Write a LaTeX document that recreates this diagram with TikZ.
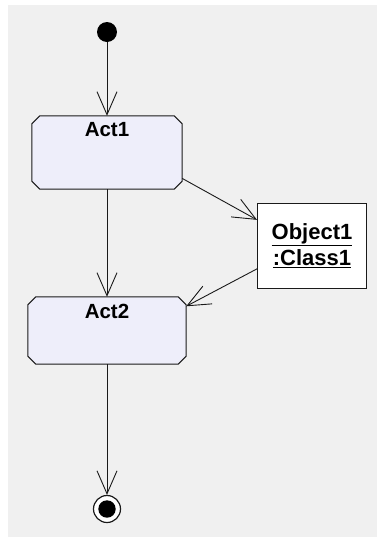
\documentclass[tikz,border=0pt]{standalone}
\usepackage{fontspec}
\setmainfont{Liberation Sans}
\usetikzlibrary{arrows.meta,calc}
\definecolor{bg}{HTML}{F0F0F0}
\definecolor{actfill}{HTML}{EEEEFA}
\definecolor{ln}{HTML}{1A1A1A}
\newcommand{\chamferbox}[1]{%
  \filldraw[actshape]
    ($(#1.north west)+(8,0)$) -- ($(#1.north east)+(-8,0)$) -- ($(#1.north east)+(0,8)$)
    -- ($(#1.south east)+(0,-8)$) -- ($(#1.south east)+(-8,0)$) -- ($(#1.south west)+(8,0)$)
    -- ($(#1.south west)+(0,-8)$) -- ($(#1.north west)+(0,8)$) -- cycle;}
\begin{document}
\begin{tikzpicture}[x=1pt,y=-1pt,
  actbox/.style={rectangle, inner sep=0pt},
  actshape/.style={draw=ln, line width=1pt, fill=actfill},
  acttext/.style={font=\fontsize{20.5}{22}\selectfont\bfseries, inner sep=0pt, anchor=north},
  objbox/.style={rectangle, draw=ln, line width=1pt, fill=white, inner sep=0pt,
    minimum width=109pt, minimum height=85pt, align=center,
    font=\fontsize{22}{26}\selectfont\bfseries},
  flow/.style={draw=ln, line width=0.9pt, -{Straight Barb[length=23pt,width=20pt,line width=0.9pt]}},
  startdot/.style={circle, fill=black, inner sep=0pt, minimum size=20pt},
  enddot/.style={circle, draw=ln, line width=1.2pt, fill=white, inner sep=0pt, minimum size=27pt,
    path picture={\fill[black] (path picture bounding box.center) circle (8.7pt);}}
]
\useasboundingbox (0,0) rectangle (377,539);
\fill[bg] (8,5) rectangle (377,537);

\node[startdot] (init) at (107,32) {};
\node[actbox, minimum width=150pt, minimum height=73pt] (act1) at (107,152.5) {};
\chamferbox{act1}
\node[acttext, yshift=-6pt] (act1label) at (act1.north) {Act1};
\node[actbox, minimum width=158pt, minimum height=67pt] (act2) at (107,330.5) {};
\chamferbox{act2}
\node[acttext, yshift=-7pt] (act2label) at (act2.north) {Act2};
\node[objbox] (obj) at (312,245.5) {\underline{Object1}\\\underline{:Class1}};
\node[enddot] (final) at (107,509) {};

\draw[flow] (init) -- (act1);
\draw[flow] (act1) -- (act2);
\draw[flow] (act2) -- (final);
\draw[flow] (act1.-19) -- (obj.155);
\draw[flow] (obj.203) -- (act2.17);
\end{tikzpicture}
\end{document}
